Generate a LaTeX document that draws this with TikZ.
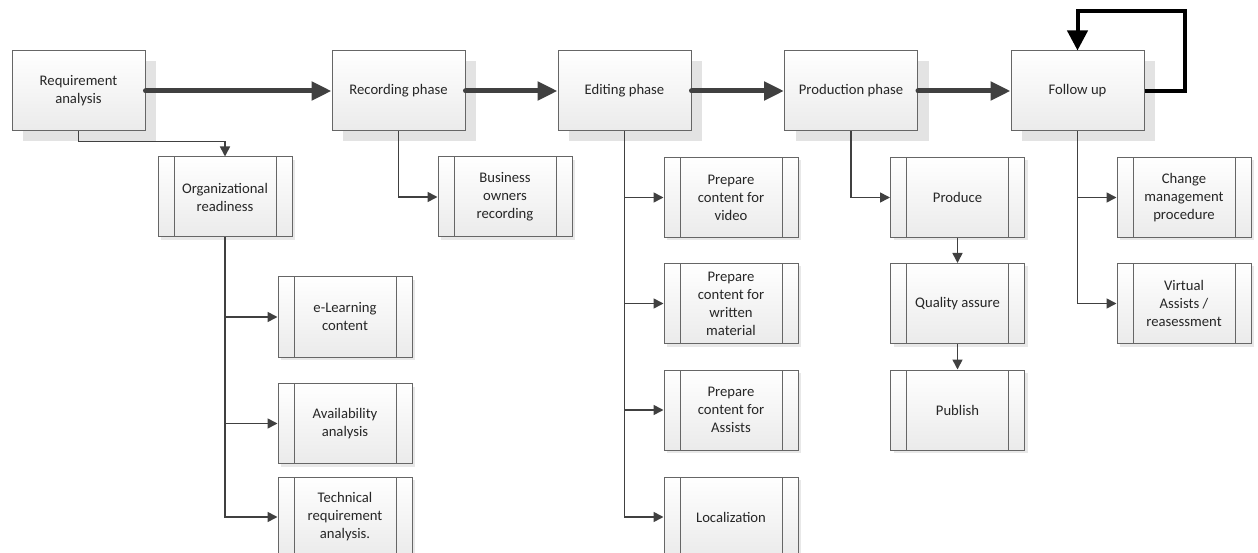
\documentclass[tikz,border=0pt]{standalone}
\usepackage{fontspec}
\setmainfont{Carlito}
\usetikzlibrary{arrows.meta,shadows}
\tikzset{
  box/.style={draw=black!60, line width=1pt, top color=white, bottom color=black!8, minimum width=133pt, minimum height=80pt, inner sep=2pt, align=center, text=black!85, font=\fontsize{14.67}{18}\selectfont},
  phase/.style={box, drop shadow={shadow xshift=11pt, shadow yshift=-10pt, fill=black!11, opacity=1}},
  task/.style={box, minimum width=134pt, drop shadow={shadow xshift=3pt, shadow yshift=-3pt, fill=black!9, opacity=1},
    path picture={\draw[black!60, line width=1pt] ([xshift=16pt]path picture bounding box.north west) -- ([xshift=16pt]path picture bounding box.south west)
      ([xshift=-16pt]path picture bounding box.north east) -- ([xshift=-16pt]path picture bounding box.south east);}},
  flow/.style={draw=black!75, line width=5pt, line cap=round, -{Triangle[length=20pt,width=18pt]}},
  link/.style={draw=black!75, line width=1.6pt, -{Triangle[length=10pt,width=10pt]}},
  loopback/.style={draw=black, line width=4pt, -{Triangle[length=20pt,width=20pt]}}
}

\begin{document}
\begin{tikzpicture}[x=1pt,y=-1pt]
  \useasboundingbox (0,0) rectangle (1258,553);
  % phases
  \node[phase] (req) at (78.5,91) {Requirement\\analysis};
  \node[phase] (rec) at (398.5,91) {Recording phase};
  \node[phase] (edit) at (624.5,91) {Editing phase};
  \node[phase] (prod) at (851,91) {Production phase};
  \node[phase] (fol) at (1077.5,91) {Follow up};
  % tasks
  \node[task] (org) at (225,197) {Organizational\\readiness};
  \node[task] (elearn) at (345,317) {e-Learning\\content};
  \node[task] (avail) at (345,423.5) {Availability\\analysis};
  \node[task] (tech) at (345,517) {Technical\\requirement\\analysis.};
  \node[task] (bizrec) at (505,197) {Business\\owners\\recording};
  \node[task] (video) at (731,197.5) {Prepare\\content for\\video};
  \node[task] (written) at (731,303.5) {Prepare\\content for\\written\\material};
  \node[task] (assists) at (731,410) {Prepare\\content for\\Assists};
  \node[task] (local) at (731,517) {Localization};
  \node[task] (produce) at (957.5,197.5) {Produce};
  \node[task] (qa) at (957.5,303.5) {Quality assure};
  \node[task] (publish) at (957.5,410) {Publish};
  \node[task] (change) at (1184,197.5) {Change\\management\\procedure};
  \node[task] (virtual) at (1184,303.5) {Virtual\\Assists /\\reasessment};

  % main flow
  \draw[flow] (req) -- (rec);
  \draw[flow] (rec) -- (edit);
  \draw[flow] (edit) -- (prod);
  \draw[flow] (prod) -- (fol);
  \draw[loopback] (fol.east) -- ++(40,0) -- ++(0,-80) -| (fol.north);

  % branches
  \draw[link] (req.south) -- ++(0,10) -| (org.north);
  \draw[link] (org.south) |- (tech.west);
  \foreach \n in {elearn,avail} \draw[link] (org.south |- \n.west) -- (\n.west);
  \draw[link] (rec.south) |- (bizrec.west);
  \draw[link] (edit.south) |- (local.west);
  \foreach \n in {video,written,assists} \draw[link] (edit.south |- \n.west) -- (\n.west);
  \draw[link] (prod.south) |- (produce.west);
  \draw[link] (produce) -- (qa);
  \draw[link] (qa) -- (publish);
  \draw[link] (fol.south) |- (virtual.west);
  \draw[link] (fol.south |- change.west) -- (change.west);
\end{tikzpicture}
\end{document}
